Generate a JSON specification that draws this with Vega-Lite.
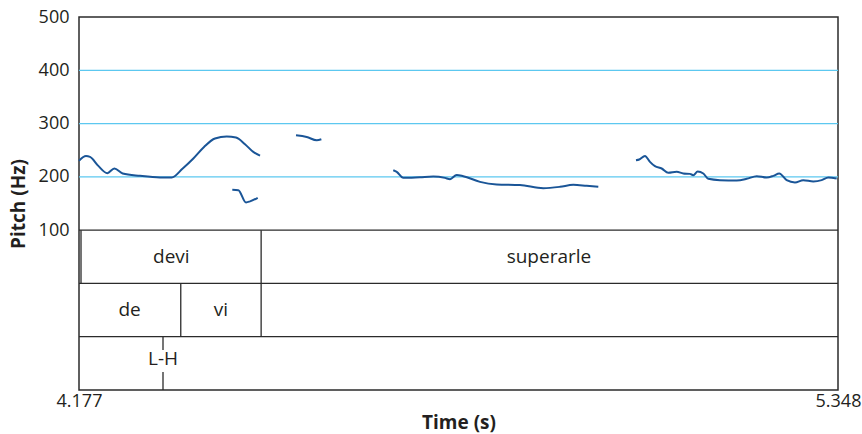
{
  "$schema": "https://vega.github.io/schema/vega-lite/v6.json",
  "width": 759,
  "height": 373,
  "autosize": "none",
  "padding": {"left": 79, "top": 17, "right": 24, "bottom": 44},
  "config": {
    "view": {"stroke": "#2b2b2b", "strokeWidth": 1.5},
    "font": "Open Sans",
    "axisX": {"grid": false, "domain": false, "ticks": false, "labelFontSize": 18, "labelPadding": 2, "labelFlush": false, "labelOverlap": false, "labelBound": false, "titleFontSize": 19, "titleFontWeight": "bold", "titlePadding": 3, "labelFont": "Open Sans", "titleFont": "Open Sans", "labelColor": "#231f20", "titleColor": "#231f20"},
    "axisY": {"grid": false, "domain": false, "ticks": false, "labelFontSize": 18, "labelPadding": 10, "titleFontSize": 19, "titleFontWeight": "bold", "titlePadding": 10, "labelFont": "Open Sans", "titleFont": "Open Sans", "labelColor": "#231f20", "titleColor": "#231f20"}
  },
  "datasets": {
    "pitch": [
      {"seg": 1, "t": 4.177, "hz": 230},
      {"seg": 1, "t": 4.1878, "hz": 239},
      {"seg": 1, "t": 4.194, "hz": 237.5},
      {"seg": 1, "t": 4.2068, "hz": 220.6},
      {"seg": 1, "t": 4.2207, "hz": 207},
      {"seg": 1, "t": 4.2315, "hz": 215.7},
      {"seg": 1, "t": 4.2444, "hz": 206.4},
      {"seg": 1, "t": 4.2711, "hz": 201.9},
      {"seg": 1, "t": 4.302, "hz": 198.9},
      {"seg": 1, "t": 4.32, "hz": 199},
      {"seg": 1, "t": 4.337, "hz": 215.7},
      {"seg": 1, "t": 4.3534, "hz": 234.5},
      {"seg": 1, "t": 4.3699, "hz": 256.2},
      {"seg": 1, "t": 4.3868, "hz": 272},
      {"seg": 1, "t": 4.4049, "hz": 275.7},
      {"seg": 1, "t": 4.4192, "hz": 273.8},
      {"seg": 1, "t": 4.4331, "hz": 261.3},
      {"seg": 1, "t": 4.4459, "hz": 246.8},
      {"seg": 1, "t": 4.4563, "hz": 240},
      {"seg": 2, "t": 4.4135, "hz": 175.6},
      {"seg": 2, "t": 4.4228, "hz": 175},
      {"seg": 2, "t": 4.4347, "hz": 152},
      {"seg": 2, "t": 4.4409, "hz": 154},
      {"seg": 2, "t": 4.4527, "hz": 160.7},
      {"seg": 3, "t": 4.5118, "hz": 278},
      {"seg": 3, "t": 4.5283, "hz": 274.9},
      {"seg": 3, "t": 4.5438, "hz": 268.7},
      {"seg": 3, "t": 4.5509, "hz": 270.6},
      {"seg": 4, "t": 4.6619, "hz": 212.5},
      {"seg": 4, "t": 4.6672, "hz": 209.4},
      {"seg": 4, "t": 4.6773, "hz": 198.1},
      {"seg": 4, "t": 4.7031, "hz": 199.4},
      {"seg": 4, "t": 4.7236, "hz": 200.7},
      {"seg": 4, "t": 4.7417, "hz": 198.1},
      {"seg": 4, "t": 4.7494, "hz": 195.7},
      {"seg": 4, "t": 4.7597, "hz": 203.7},
      {"seg": 4, "t": 4.7699, "hz": 201.3},
      {"seg": 4, "t": 4.7957, "hz": 190.6},
      {"seg": 4, "t": 4.8214, "hz": 185.8},
      {"seg": 4, "t": 4.8574, "hz": 184.5},
      {"seg": 4, "t": 4.8933, "hz": 178.8},
      {"seg": 4, "t": 4.9191, "hz": 181.3},
      {"seg": 4, "t": 4.9396, "hz": 185},
      {"seg": 4, "t": 4.9603, "hz": 183.1},
      {"seg": 4, "t": 4.9782, "hz": 181.3},
      {"seg": 5, "t": 5.0363, "hz": 231.3},
      {"seg": 5, "t": 5.0414, "hz": 232.6},
      {"seg": 5, "t": 5.0502, "hz": 239.3},
      {"seg": 5, "t": 5.0579, "hz": 228.1},
      {"seg": 5, "t": 5.0656, "hz": 220},
      {"seg": 5, "t": 5.076, "hz": 215.7},
      {"seg": 5, "t": 5.0862, "hz": 207.5},
      {"seg": 5, "t": 5.0991, "hz": 209.4},
      {"seg": 5, "t": 5.1093, "hz": 206.4},
      {"seg": 5, "t": 5.1196, "hz": 205.6},
      {"seg": 5, "t": 5.1248, "hz": 203.2},
      {"seg": 5, "t": 5.1315, "hz": 210.1},
      {"seg": 5, "t": 5.1402, "hz": 206.4},
      {"seg": 5, "t": 5.1479, "hz": 196.3},
      {"seg": 5, "t": 5.1659, "hz": 193.8},
      {"seg": 5, "t": 5.1917, "hz": 193.3},
      {"seg": 5, "t": 5.2071, "hz": 196.3},
      {"seg": 5, "t": 5.2226, "hz": 201.3},
      {"seg": 5, "t": 5.238, "hz": 198.9},
      {"seg": 5, "t": 5.2481, "hz": 201.9},
      {"seg": 5, "t": 5.2574, "hz": 206.4},
      {"seg": 5, "t": 5.2688, "hz": 193.8},
      {"seg": 5, "t": 5.2816, "hz": 189.5},
      {"seg": 5, "t": 5.2944, "hz": 193.8},
      {"seg": 5, "t": 5.3099, "hz": 191.4},
      {"seg": 5, "t": 5.3228, "hz": 193.8},
      {"seg": 5, "t": 5.333, "hz": 198.9},
      {"seg": 5, "t": 5.346, "hz": 197}
    ],
    "grid": [{"t": 4.177, "t2": 5.348, "v": 200}, {"t": 4.177, "t2": 5.348, "v": 300}, {"t": 4.177, "t2": 5.348, "v": 400}],
    "tierlines": [{"t": 4.177, "t2": 5.348, "v": 100}, {"t": 4.177, "t2": 5.348, "v": 0}, {"t": 4.177, "t2": 5.348, "v": -100}],
    "bounds": [
      {"t": 4.1801, "v": 100, "v2": 0},
      {"t": 4.458, "v": 100, "v2": -100},
      {"t": 4.334, "v": 0, "v2": -100},
      {"t": 4.3066, "v": -100, "v2": -125},
      {"t": 4.3066, "v": -166, "v2": -200}
    ],
    "labels": [
      {"t": 4.3195, "v": 50, "label": "devi"},
      {"t": 4.902, "v": 50, "label": "superarle"},
      {"t": 4.255, "v": -50, "label": "de"},
      {"t": 4.396, "v": -50, "label": "vi"},
      {"t": 4.3066, "v": -142, "label": "L-H"}
    ]
  },
  "layer": [
    {
      "data": {"name": "grid"},
      "mark": {"type": "rule", "color": "#5cc8f0", "strokeWidth": 1.2},
      "encoding": {
        "x": {"field": "t", "type": "quantitative", "scale": {"domain": [4.177, 5.348]}, "title": "Time (s)", "axis": {"values": [4.177, 5.348], "format": ".3f"}},
        "x2": {"field": "t2"},
        "y": {"field": "v", "type": "quantitative", "scale": {"domain": [-200, 500]}, "title": "Pitch (Hz)", "axis": {"values": [100, 200, 300, 400, 500]}}
      }
    },
    {
      "data": {"name": "tierlines"},
      "mark": {"type": "rule", "color": "#2b2b2b", "strokeWidth": 1.3},
      "encoding": {
        "x": {"field": "t", "type": "quantitative", "scale": {"domain": [4.177, 5.348]}, "title": "Time (s)", "axis": {"values": [4.177, 5.348], "format": ".3f"}},
        "x2": {"field": "t2"},
        "y": {"field": "v", "type": "quantitative", "scale": {"domain": [-200, 500]}, "title": "Pitch (Hz)", "axis": {"values": [100, 200, 300, 400, 500]}}
      }
    },
    {
      "data": {"name": "bounds"},
      "mark": {"type": "rule", "color": "#2b2b2b", "strokeWidth": 1.3},
      "encoding": {
        "x": {"field": "t", "type": "quantitative", "scale": {"domain": [4.177, 5.348]}, "title": "Time (s)", "axis": {"values": [4.177, 5.348], "format": ".3f"}},
        "y": {"field": "v", "type": "quantitative", "scale": {"domain": [-200, 500]}, "title": "Pitch (Hz)", "axis": {"values": [100, 200, 300, 400, 500]}},
        "y2": {"field": "v2"}
      }
    },
    {
      "data": {"name": "labels"},
      "mark": {"type": "text", "fontSize": 19, "color": "#231f20", "font": "Open Sans"},
      "encoding": {
        "x": {"field": "t", "type": "quantitative", "scale": {"domain": [4.177, 5.348]}, "title": "Time (s)", "axis": {"values": [4.177, 5.348], "format": ".3f"}},
        "y": {"field": "v", "type": "quantitative", "scale": {"domain": [-200, 500]}, "title": "Pitch (Hz)", "axis": {"values": [100, 200, 300, 400, 500]}},
        "text": {"field": "label"}
      }
    },
    {
      "data": {"name": "pitch"},
      "mark": {"type": "line", "color": "#1a5597", "strokeWidth": 2, "interpolate": "monotone"},
      "encoding": {
        "x": {"field": "t", "type": "quantitative", "scale": {"domain": [4.177, 5.348]}, "title": "Time (s)", "axis": {"values": [4.177, 5.348], "format": ".3f"}},
        "y": {"field": "hz", "type": "quantitative", "scale": {"domain": [-200, 500]}, "title": "Pitch (Hz)", "axis": {"values": [100, 200, 300, 400, 500]}},
        "detail": {"field": "seg", "type": "nominal"}
      }
    }
  ]
}
